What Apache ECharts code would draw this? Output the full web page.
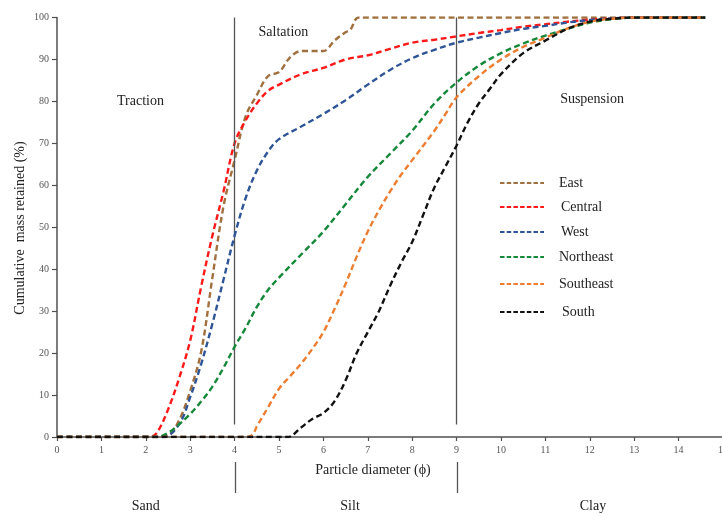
<!DOCTYPE html>
<html>
<head>
<meta charset="utf-8">
<script src="https://cdn.jsdelivr.net/npm/echarts@6/dist/echarts.min.js"></script>
<style>
  html, body { margin: 0; padding: 0; background: #fff; }
  #chart { width: 722px; height: 516px; }
</style>
</head>
<body>
<div id="chart"></div>
<script>
// Cumulative grain-size curves (particle diameter in phi vs. % mass retained)
const eastPhi = [0, 1, 2, 2.5, 2.75, 3, 3.25, 3.5, 3.75, 4, 4.25, 4.5, 4.75, 5, 5.25, 5.5, 6, 6.25, 6.5, 6.6, 6.8, 8, 10, 12, 14.6];
const eastPct = [0, 0, 0, 0.5, 4, 11, 20.5, 38, 55, 66, 76.5, 81.5, 86, 87, 90.5, 92, 92, 94.5, 96.5, 97, 100, 100, 100, 100, 100];

const centralPhi = [0, 1, 2, 2.1, 2.25, 2.5, 2.75, 3, 3.25, 3.5, 3.75, 4, 4.25, 4.5, 4.75, 5, 5.5, 6, 6.5, 7, 7.5, 8, 8.5, 9, 9.5, 10, 10.5, 11, 11.5, 12, 12.5, 13, 14.6];
const centralPct = [0, 0, 0, 0, 1, 6.5, 14, 23, 36, 48, 58.5, 70, 75.5, 79.5, 82.5, 84, 86.5, 88, 90, 91, 92.5, 94, 94.7, 95.5, 96.3, 97, 97.8, 98.4, 99, 99.5, 99.8, 100, 100];

const westPhi = [0, 1, 2, 2.4, 2.75, 3, 3.25, 3.5, 3.75, 4, 4.25, 4.5, 4.75, 5, 5.5, 6, 6.5, 7, 7.5, 8, 8.5, 9, 9.5, 10, 10.5, 11, 11.5, 12, 12.5, 13, 14.6];
const westPct = [0, 0, 0, 0, 3, 9.5, 17.5, 27, 37.5, 48, 57, 63.5, 68, 71, 74, 77, 80.3, 84, 87.5, 90.3, 92.3, 94, 95.2, 96.3, 97.3, 98, 98.8, 99.4, 99.8, 100, 100];

const northeastPhi = [0, 1, 2, 2.25, 2.5, 2.75, 3, 3.25, 3.5, 3.75, 4, 4.25, 4.5, 4.75, 5, 5.5, 6, 6.5, 7, 7.5, 8, 8.5, 9, 9.5, 10, 10.5, 11, 11.5, 12, 12.5, 13, 14.6];
const northeastPct = [0, 0, 0, 0, 1, 3, 5.5, 8.5, 12, 16.5, 21.5, 26, 31, 35, 38, 43.5, 49, 55.5, 62, 67.5, 73, 79.5, 84.5, 88.5, 91.5, 93.8, 95.7, 97.3, 98.8, 99.6, 100, 100];

const southeastPhi = [0, 1, 2, 3, 4, 4.25, 4.4, 4.5, 4.75, 5, 5.25, 5.5, 5.75, 6, 6.25, 6.5, 6.75, 7, 7.25, 7.5, 7.75, 8, 8.5, 8.75, 9, 9.5, 10, 10.5, 11, 11.5, 12, 12.5, 13, 14.6];
const southeastPct = [0, 0, 0, 0, 0, 0, 0.5, 2.5, 7, 11.5, 14.5, 17.5, 21, 25, 30.5, 36.5, 43, 49, 54, 58.5, 62.5, 66, 73, 77, 81, 86, 90, 93, 95.2, 97.4, 99, 99.7, 100, 100];

const southPhi = [0, 1, 2, 3, 4, 5, 5.2, 5.5, 5.75, 6, 6.25, 6.5, 6.75, 7, 7.25, 7.5, 7.75, 8, 8.25, 8.5, 8.75, 9, 9.25, 9.5, 9.75, 10, 10.5, 11, 11.5, 12, 12.5, 13, 14.6];
const southPct = [0, 0, 0, 0, 0, 0, 0, 2.3, 4.3, 5.7, 8.5, 13.5, 20, 25, 30, 36, 41.5, 46.5, 53, 59.5, 64.5, 69.5, 75, 79.5, 83, 86.5, 91.5, 94.5, 97.3, 99, 99.7, 100, 100];

const seriesNames = ['East', 'Central', 'West', 'Northeast', 'Southeast', 'South'];
const seriesColors = ['#A0703E', '#FF1A1A', '#2F5597', '#16883A', '#ED7D31', '#111111'];
const seriesPhi = [eastPhi, centralPhi, westPhi, northeastPhi, southeastPhi, southPhi];
const seriesPct = [eastPct, centralPct, westPct, northeastPct, southeastPct, southPct];

const xTicks = { min: 0, max: 15, interval: 1 };
const yTicks = { min: 0, max: 100, interval: 10 };
const boundaryPhi = [4, 9];           // sand/silt and silt/clay boundaries
const zoneLabels = ['Traction', 'Saltation', 'Suspension'];
const classLabels = ['Sand', 'Silt', 'Clay'];

const serif = 'Liberation Serif, Times New Roman, serif';
const axisGray = '#505050';

const chart = echarts.init(document.getElementById('chart'), null, { renderer: 'canvas' });

const series = seriesNames.map((name, i) => ({
  name: name,
  type: 'line',
  data: seriesPhi[i].map((p, k) => [p, seriesPct[i][k]]),
  showSymbol: false,
  symbol: 'none',
  smooth: 0.35,
  clip: true,
  lineStyle: { color: seriesColors[i], width: 2.4, type: [6, 3.5] },
  itemStyle: { color: seriesColors[i] },
  z: 3 + i
}));

// boundary lines inside the plot
series.push({
  type: 'line',
  data: [],
  silent: true,
  markLine: {
    symbol: 'none',
    silent: true,
    label: { show: false },
    lineStyle: { color: '#555', width: 1.3, type: 'solid' },
    data: boundaryPhi.map(p => [{ coord: [p, 3] }, { coord: [p, 100] }])
  }
});

chart.setOption({
  animation: false,
  backgroundColor: '#ffffff',
  grid: { left: 57, top: 17.5, width: 666, height: 419.5, containLabel: false, outerBoundsMode: 'none' },
  xAxis: {
    type: 'value',
    min: xTicks.min, max: xTicks.max, interval: xTicks.interval,
    axisLine: { lineStyle: { color: axisGray, width: 1.5 } },
    axisTick: { show: true, length: 4, lineStyle: { color: axisGray, width: 1.2 } },
    axisLabel: { color: '#555', fontFamily: serif, fontSize: 10, margin: 8 },
    splitLine: { show: false }
  },
  yAxis: {
    type: 'value',
    min: yTicks.min, max: yTicks.max, interval: yTicks.interval,
    axisLine: { show: true, lineStyle: { color: axisGray, width: 1.5 } },
    axisTick: { show: true, length: 5, lineStyle: { color: axisGray, width: 1.2 } },
    axisLabel: { color: '#555', fontFamily: serif, fontSize: 10, margin: 8 },
    splitLine: { show: false }
  },
  series: series
});

// annotations, axis titles and the legend
const px = (x, y) => chart.convertToPixel({ gridIndex: 0 }, [x, y]);
const textStyle = (size) => ({ fill: '#222', font: size + 'px ' + serif });

const graphics = [];
const addText = (text, x, y, size, extra) => graphics.push(Object.assign({
  type: 'text', x: x, y: y,
  style: Object.assign({ text: text, align: 'center', verticalAlign: 'middle' }, textStyle(size))
}, extra || {}));

const zonePos = [[1.88, 80], [5.1, 96.5], [12.05, 80.5]];
zoneLabels.forEach((t, i) => { const p = px(zonePos[i][0], zonePos[i][1]); addText(t, p[0], p[1], 14); });

addText('Particle diameter (\u03D5)', 373, 470, 14);
addText('Cumulative  mass retained (%)', 20, 228, 14, { rotation: Math.PI / 2 });

const classX = [2.0, 6.6, 12.07];
classLabels.forEach((t, i) => addText(t, px(classX[i], 0)[0], 506, 14));

boundaryPhi.forEach(p => {
  const x = Math.round(px(p, 0)[0]) + 0.5;
  graphics.push({ type: 'line', shape: { x1: x, y1: 462, x2: x, y2: 493 },
    style: { stroke: '#555', lineWidth: 1.3 } });
});

const legendY = [183, 207, 232, 257, 284, 312];
const legendTextX = [559, 561, 561, 559, 559, 562];
seriesNames.forEach((name, i) => {
  graphics.push({ type: 'line', shape: { x1: 500, y1: legendY[i], x2: 544, y2: legendY[i] },
    style: { stroke: seriesColors[i], lineWidth: 1.8, lineDash: [4.5, 2.2] } });
  graphics.push({ type: 'text', x: legendTextX[i], y: legendY[i],
    style: Object.assign({ text: name, align: 'left', verticalAlign: 'middle' }, textStyle(14)) });
});

chart.setOption({ graphic: graphics });
</script>
</body>
</html>
